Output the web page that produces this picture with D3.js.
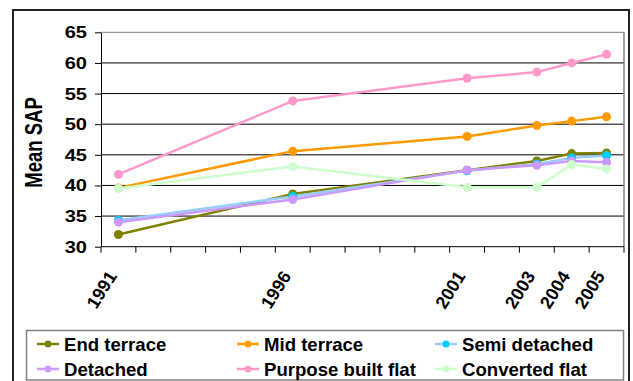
<!DOCTYPE html>
<html>
<head>
<meta charset="utf-8">
<script src="https://cdn.jsdelivr.net/npm/d3@7"></script>
<style>
  html, body { margin: 0; padding: 0; background: #fff; }
  svg { display: block; }
  text { font-family: "Liberation Sans", Arial, sans-serif; font-weight: bold; fill: #000; }
</style>
</head>
<body>
<svg id="chart" width="633" height="381"></svg>
<script>
// Category axis: every year from 1991 to 2005, labelled only where surveyed
const allYears = ["1991","1992","1993","1994","1995","1996","1997","1998","1999","2000","2001","2002","2003","2004","2005"];
const labelledYears = ["1991","1996","2001","2003","2004","2005"];
const yTicks = [30, 35, 40, 45, 50, 55, 60, 65];

// Mean SAP by dwelling type
const endTerrace       = [32.0, 38.6, 42.5, 44.0, 45.2, 45.3];
const midTerrace       = [39.6, 45.6, 48.0, 49.8, 50.5, 51.2];
const semiDetached     = [34.3, 38.2, 42.4, 43.5, 44.5, 44.9];
const detached         = [34.0, 37.7, 42.5, 43.3, 44.0, 43.8];
const purposeBuiltFlat = [41.8, 53.8, 57.5, 58.5, 60.0, 61.4];
const convertedFlat    = [39.5, 43.1, 39.7, 39.7, 43.4, 42.7];

const series = [
  { name: "End terrace",        values: endTerrace,       line: "#808000", marker: "#808000" },
  { name: "Mid terrace",        values: midTerrace,       line: "#FF9900", marker: "#FF9900" },
  { name: "Semi detached",      values: semiDetached,     line: "#99CCFF", marker: "#00CCFF" },
  { name: "Detached",           values: detached,         line: "#CC99FF", marker: "#CC99FF" },
  { name: "Purpose built flat", values: purposeBuiltFlat, line: "#FF99CC", marker: "#FF99CC" },
  { name: "Converted flat",     values: convertedFlat,    line: "#CCFFCC", marker: "#CCFFCC" }
];

const svg = d3.select("#chart");
const plot = { left: 101, right: 624, top: 32.3, bottom: 246.7 };

const x = d3.scaleBand().domain(allYears).range([plot.left, plot.right]).padding(0);
const y = d3.scaleLinear().domain([30, 65]).range([plot.bottom, plot.top]);
const cx = yr => x(yr) + x.bandwidth() / 2;

// Outer chart frame
svg.append("rect")
  .attr("x", 13).attr("y", 10).attr("width", 616).attr("height", 380)
  .attr("fill", "#fff").attr("stroke", "#222").attr("stroke-width", 2);

// Horizontal gridlines
svg.append("g").selectAll("line")
  .data(yTicks.filter(t => t > 30))
  .join("line")
  .attr("x1", plot.left).attr("x2", plot.right)
  .attr("y1", d => y(d)).attr("y2", d => y(d))
  .attr("stroke", d => d === 65 ? "#808080" : "#000")
  .attr("stroke-width", 1);

// Plot-area right edge
svg.append("line")
  .attr("x1", plot.right).attr("x2", plot.right)
  .attr("y1", plot.top).attr("y2", plot.bottom)
  .attr("stroke", "#808080").attr("stroke-width", 1.5);

// Y axis
const yAxis = svg.append("g")
  .attr("transform", `translate(${plot.left},0)`)
  .call(d3.axisLeft(y).tickValues(yTicks).tickSize(6).tickPadding(8).tickSizeOuter(0));
yAxis.select(".domain").attr("stroke", "#000");
yAxis.selectAll(".tick line").attr("stroke", "#000");
yAxis.selectAll(".tick text")
  .attr("font-size", 17)
  .attr("font-family", null)
  .attr("fill", "#000")
  .attr("transform", function () {
    // slight horizontal stretch on the tick numbers, anchored at their right edge
    const tx = -14;
    return `translate(${tx},0) scale(1.18,1) translate(${-tx},0)`;
  });

// X axis: ticks on category boundaries
const xAxis = svg.append("g").attr("transform", `translate(0,${plot.bottom})`);
xAxis.append("line")
  .attr("x1", plot.left).attr("x2", plot.right)
  .attr("y1", 0).attr("y2", 0).attr("stroke", "#000");
const boundaries = allYears.map(d => x(d)).concat([plot.right]);
xAxis.selectAll("line.tk")
  .data(boundaries)
  .join("line").attr("class", "tk")
  .attr("x1", d => d).attr("x2", d => d)
  .attr("y1", 0).attr("y2", 6).attr("stroke", "#000");
xAxis.selectAll("text.yr")
  .data(labelledYears)
  .join("text").attr("class", "yr")
  .attr("font-size", 18)
  .attr("text-anchor", "end")
  .attr("transform", d => `translate(${cx(d) - 1},${276 - plot.bottom}) rotate(-58)`)
  .text(d => d);

// Axis title
svg.append("text")
  .attr("font-size", 18.5)
  .attr("text-anchor", "middle")
  .attr("transform", "translate(41.5,142.5) scale(1.25,1) rotate(-90)")
  .text("Mean SAP");

// Series lines and markers
const line = d3.line().x((d, i) => cx(labelledYears[i])).y(d => y(d));
const gSeries = svg.append("g");
series.forEach(s => {
  const g = gSeries.append("g");
  g.append("path")
    .attr("d", line(s.values))
    .attr("fill", "none")
    .attr("stroke", s.line)
    .attr("stroke-width", 2.5)
    .attr("stroke-linejoin", "round");
  g.selectAll("circle")
    .data(s.values)
    .join("circle")
    .attr("cx", (d, i) => cx(labelledYears[i]))
    .attr("cy", d => y(d))
    .attr("r", 4.5)
    .attr("fill", s.marker);
});

// Legend
svg.append("rect")
  .attr("x", 26.5).attr("y", 330.5).attr("width", 597).attr("height", 49.5)
  .attr("fill", "#fff").attr("stroke", "#808080").attr("stroke-width", 1.5);
const colX = [37, 237, 435];
const rowY = [344, 369];
const legend = svg.append("g").selectAll("g")
  .data(series)
  .join("g")
  .attr("transform", (d, i) => `translate(${colX[i % 3]},${rowY[Math.floor(i / 3)]})`);
legend.append("line")
  .attr("x1", 0).attr("x2", 22).attr("y1", 0).attr("y2", 0)
  .attr("stroke", d => d.line).attr("stroke-width", 2.5);
legend.append("circle")
  .attr("cx", 11).attr("cy", 0).attr("r", 3.5)
  .attr("fill", d => d.marker);
legend.append("text")
  .attr("x", 27).attr("y", 6.5)
  .attr("font-size", 18.6)
  .text(d => d.name);
</script>
</body>
</html>
